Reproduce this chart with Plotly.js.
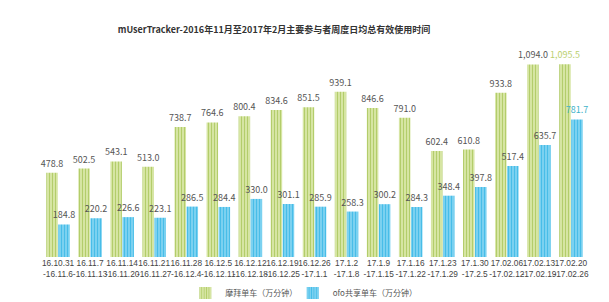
<!DOCTYPE html>
<html>
<head>
<meta charset="utf-8">
<script src="https://cdn.plot.ly/plotly-3.0.1.min.js"></script>
<style>html,body{margin:0;padding:0;background:#fff;}#chart{width:609px;height:302px;}</style>
</head>
<body>
<div id="chart"></div>
<script>
var categories = [
  "16.10.31<br>-16.11.6", "16.11.7<br>-16.11.13", "16.11.14<br>-16.11.20", "16.11.21<br>-16.11.27",
  "16.11.28<br>-16.12.4", "16.12.5<br>-16.12.11", "16.12.12<br>-16.12.18", "16.12.19<br>-16.12.25",
  "16.12.26<br>-17.1.1", "17.1.2<br>-17.1.8", "17.1.9<br>-17.1.15", "17.1.16<br>-17.1.22",
  "17.1.23<br>-17.1.29", "17.1.30<br>-17.2.5", "17.02.06<br>-17.02.12", "17.02.13<br>-17.02.19",
  "17.02.20<br>-17.02.26"
];
var mobikeValues = [478.8, 502.5, 543.1, 513.0, 738.7, 764.6, 800.4, 834.6, 851.5, 939.1, 846.6, 791.0, 602.4, 610.8, 933.8, 1094.0, 1095.5];
var ofoValues = [184.8, 220.2, 226.6, 223.1, 286.5, 284.4, 330.0, 301.1, 285.9, 258.3, 300.2, 284.3, 348.4, 397.8, 517.4, 635.7, 781.7];
var seriesNames = ["摩拜单车（万分钟）", "ofo共享单车（万分钟）"];
var titleText = "mUserTracker-2016年11月至2017年2月主要参与者周度日均总有效使用时间";

function fmt(v) {
  return v.toLocaleString("en-US", {minimumFractionDigits: 1, maximumFractionDigits: 1});
}
var labelGray = "#555555";
var mobikeLabelColors = mobikeValues.map(function (v, i) { return i === mobikeValues.length - 1 ? "#b9cf6e" : labelGray; });
var ofoLabelColors = ofoValues.map(function (v, i) { return i === ofoValues.length - 1 ? "#3fb3c9" : labelGray; });

var font = "'Noto Sans CJK SC', 'Noto Sans', sans-serif";
var tickFont = "'Liberation Sans', Arial, sans-serif";

var traces = [
  {
    type: "bar", name: seriesNames[0], x: categories, y: mobikeValues, legend: "legend",
    text: mobikeValues.map(fmt), textposition: "outside", constraintext: "none", cliponaxis: false,
    textfont: {size: 9, color: mobikeLabelColors, family: font},
    marker: {color: "#cfe096", line: {width: 0},
      pattern: {shape: "|", fgcolor: "#b3cd6b", bgcolor: "#d6e5a3", size: 3, solidity: 0.35}},
    hoverinfo: "none"
  },
  {
    type: "bar", name: seriesNames[1], x: categories, y: ofoValues, legend: "legend2",
    text: ofoValues.map(fmt), textposition: "outside", constraintext: "none", cliponaxis: false,
    textfont: {size: 9, color: ofoLabelColors, family: font},
    marker: {color: "#5ec8ec", line: {width: 0},
      pattern: {shape: "|", fgcolor: "#48bde8", bgcolor: "#86d6f2", size: 3, solidity: 0.45}},
    hoverinfo: "none"
  }
];

var legendBase = {orientation: "h", xanchor: "left", yref: "paper", y: -0.166, yanchor: "middle",
  font: {size: 8, color: "#555555", family: font}, itemwidth: 30, bgcolor: "rgba(0,0,0,0)"};

var layout = {
  width: 609, height: 302,
  margin: {l: 42, r: 22, t: 40, b: 45, autoexpand: false},
  paper_bgcolor: "#ffffff", plot_bgcolor: "#ffffff",
  font: {family: font, size: 9, color: "#444444"},
  title: {text: "<b>" + titleText + "</b>", x: 0.45, xref: "container", xanchor: "center",
    y: 0.9, yref: "container", yanchor: "middle",
    font: {size: 9, color: "#333333", family: font}},
  barmode: "group", bargap: 0.25, bargroupgap: 0.04,
  xaxis: {type: "category", showgrid: false, showline: false, zeroline: false, ticks: "",
    tickfont: {size: 8.3, color: "#444444", family: tickFont}, tickangle: 0, automargin: false},
  yaxis: {range: [0, 1233], showgrid: false, showline: false, zeroline: false, showticklabels: false, ticks: "", automargin: false},
  showlegend: true,
  legend: Object.assign({}, legendBase, {x: 0.263}),
  legend2: Object.assign({}, legendBase, {x: 0.46})
};

Plotly.newPlot("chart", traces, layout, {staticPlot: true, displayModeBar: false});
</script>
</body>
</html>
